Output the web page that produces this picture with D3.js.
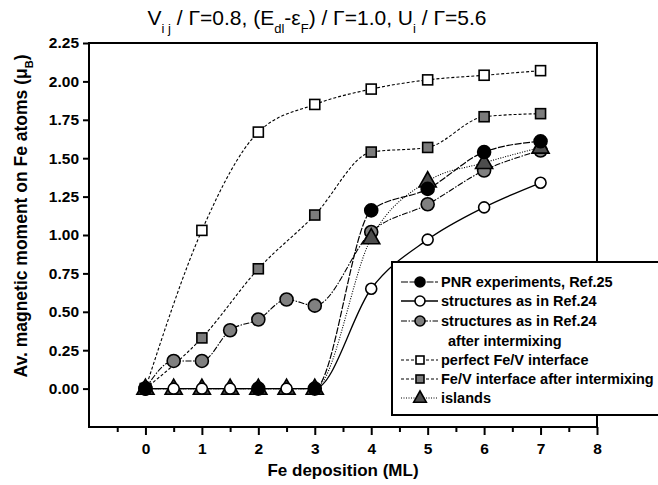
<!DOCTYPE html>
<html>
<head>
<meta charset="utf-8">
<script src="https://cdn.jsdelivr.net/npm/d3@7"></script>
<style>
  body { margin: 0; background: #fff; }
  svg { font-family: "Liberation Sans", Arial, sans-serif; }
</style>
</head>
<body>
<svg id="chart" width="658" height="485"></svg>
<script>
// Fe deposition (ML) and average moment (muB)
var pnrX        = [0, 2, 3, 4, 5, 6, 7];
var pnrY        = [0, 0, 0, 1.16, 1.30, 1.54, 1.61];
var ref24X      = [0, 0.5, 1, 1.5, 2, 2.5, 3, 4, 5, 6, 7];
var ref24Y      = [0, 0, 0, 0, 0, 0, 0, 0.65, 0.97, 1.18, 1.34];
var ref24MixX   = [0, 0.5, 1, 1.5, 2, 2.5, 3, 4, 5, 6, 7];
var ref24MixY   = [0, 0.18, 0.18, 0.38, 0.45, 0.58, 0.54, 1.02, 1.20, 1.42, 1.55];
var perfectX    = [0, 1, 2, 3, 4, 5, 6, 7];
var perfectY    = [0, 1.03, 1.67, 1.85, 1.95, 2.01, 2.04, 2.07];
var feVMixX     = [0, 1, 2, 3, 4, 5, 6, 7];
var feVMixY     = [0, 0.33, 0.78, 1.13, 1.54, 1.57, 1.77, 1.79];
var islandsX    = [0, 0.5, 1, 1.5, 2, 2.5, 3, 4, 5, 6, 7];
var islandsY    = [0, 0, 0, 0, 0, 0, 0, 0.98, 1.35, 1.47, 1.57];

var xTicks = [0, 1, 2, 3, 4, 5, 6, 7, 8];
var xMinorTicks = [-0.5, 0.5, 1.5, 2.5, 3.5, 4.5, 5.5, 6.5, 7.5];
var yTicks = [0, 0.25, 0.5, 0.75, 1.0, 1.25, 1.5, 1.75, 2.0, 2.25];

var svg = d3.select("#chart");

var x = d3.scaleLinear().domain([-1, 8]).range([89, 597]);
var y = d3.scaleLinear().domain([-0.25, 2.25]).range([427, 43]);

function zip(xs, ys) {
  return xs.map(function (v, i) { return [v, ys[i]]; });
}

var series = [
  { name: "perfect", data: zip(perfectX, perfectY), dash: "3,2", width: 1.1, shape: "square", fill: "#fff", size: 10 },
  { name: "fevmix", data: zip(feVMixX, feVMixY), dash: "3,2", width: 1.1, shape: "square", fill: "#7c7c7c", size: 10 },
  { name: "ref24mix", data: zip(ref24MixX, ref24MixY), dash: "6,1.5,1.5,1.5", width: 1.1, shape: "circle", fill: "#808080", size: 6.5 },
  { name: "islands", data: zip(islandsX, islandsY), dash: "1,1.5", width: 1.1, shape: "triangle", fill: "#4d4d4d", size: 9.5 },
  { name: "ref24", data: zip(ref24X, ref24Y), dash: null, width: 1.3, shape: "circle", fill: "#fff", size: 5.5 },
  { name: "pnr", data: zip(pnrX, pnrY), dash: "7,1.5", width: 1.2, shape: "circle", fill: "#000", size: 6.5 }
];

var line = d3.line()
  .x(function (d) { return x(d[0]); })
  .y(function (d) { return y(d[1]); })
  .curve(d3.curveMonotoneX);

// frame
svg.append("rect")
  .attr("x", x(-1)).attr("y", y(2.25))
  .attr("width", x(8) - x(-1)).attr("height", y(-0.25) - y(2.25))
  .attr("fill", "none").attr("stroke", "#000").attr("stroke-width", 2);

// axes
var xAxisG = svg.append("g").attr("transform", "translate(0," + y(-0.25) + ")");
xAxisG.call(d3.axisBottom(x).tickValues(xTicks).tickSize(8).tickFormat(d3.format("d")));
xAxisG.append("g").call(d3.axisBottom(x).tickValues(xMinorTicks).tickSize(5).tickFormat(""));

var yAxisG = svg.append("g").attr("transform", "translate(" + x(-1) + ",0)");
yAxisG.call(d3.axisLeft(y).tickValues(yTicks).tickSize(6).tickFormat(d3.format(".2f")));

svg.selectAll(".domain").remove();
svg.selectAll(".tick line").attr("stroke", "#000").attr("stroke-width", 2);
svg.selectAll(".tick text")
  .attr("fill", "#000")
  .style("font-size", "15.5px")
  .style("font-weight", "bold");
xAxisG.selectAll(".tick text").attr("dy", "1.05em");
yAxisG.selectAll(".tick text").attr("x", -10);

// lines
var plot = svg.append("g");
series.forEach(function (s) {
  plot.append("path")
    .datum(s.data)
    .attr("fill", "none")
    .attr("stroke", "#000")
    .attr("stroke-width", s.width)
    .attr("stroke-dasharray", s.dash)
    .attr("d", line);
});

function drawMarker(g, s, cx, cy) {
  var m;
  if (s.shape === "circle") {
    m = g.append("circle").attr("cx", cx).attr("cy", cy).attr("r", s.size);
  } else if (s.shape === "square") {
    m = g.append("rect")
      .attr("x", cx - s.size / 2).attr("y", cy - s.size / 2)
      .attr("width", s.size).attr("height", s.size);
  } else {
    var r = s.size;
    m = g.append("path")
      .attr("d", "M" + cx + "," + (cy - r) +
                 "L" + (cx + r * 0.9) + "," + (cy + r * 0.6) +
                 "L" + (cx - r * 0.9) + "," + (cy + r * 0.6) + "Z");
  }
  m.attr("fill", s.fill).attr("stroke", "#000").attr("stroke-width", 1.6);
}

series.forEach(function (s) {
  var g = plot.append("g");
  s.data.forEach(function (d) { drawMarker(g, s, x(d[0]), y(d[1])); });
});

// legend
var legend = svg.append("g");
legend.append("rect")
  .attr("x", 392).attr("y", 262).attr("width", 280).attr("height", 153)
  .attr("fill", "#fff").attr("stroke", "#000").attr("stroke-width", 2);

var legendRows = [
  { s: series[5], text: ["PNR experiments, Ref.25"], y: 282 },
  { s: series[4], text: ["structures as in Ref.24"], y: 301 },
  { s: series[2], text: ["structures as in Ref.24", "after intermixing"], y: 321 },
  { s: series[0], text: ["perfect Fe/V interface"], y: 360 },
  { s: series[1], text: ["Fe/V interface after intermixing"], y: 379 },
  { s: series[3], text: ["islands"], y: 398 }
];

legendRows.forEach(function (r) {
  legend.append("line")
    .attr("x1", 401).attr("x2", 438).attr("y1", r.y).attr("y2", r.y)
    .attr("stroke", "#000").attr("stroke-width", r.s.width)
    .attr("stroke-dasharray", r.s.dash);
  var small = Object.assign({}, r.s, { size: r.s.shape === "square" ? 8 : (r.s.shape === "triangle" ? 7 : 5) });
  drawMarker(legend, small, 420, r.y);
  r.text.forEach(function (t, i) {
    legend.append("text")
      .attr("x", i === 0 ? 441 : 448)
      .attr("y", r.y + 5 + i * 19.5)
      .style("font-size", "14.5px")
      .style("font-weight", "bold")
      .text(t);
  });
});

// axis titles
svg.append("text")
  .attr("x", 343).attr("y", 476)
  .attr("text-anchor", "middle")
  .style("font-size", "17px")
  .style("font-weight", "bold")
  .text("Fe deposition (ML)");

var yl = svg.append("text")
  .attr("transform", "translate(27,216) rotate(-90)")
  .attr("text-anchor", "middle")
  .style("font-size", "17.5px")
  .style("font-weight", "bold");
yl.append("tspan").text("Av. magnetic moment on Fe atoms (\u03bc");
yl.append("tspan").attr("baseline-shift", "sub").style("font-size", "11px").text("B");
yl.append("tspan").text(")");

// title
var title = svg.append("text")
  .attr("x", 317).attr("y", 25)
  .attr("text-anchor", "middle")
  .style("font-size", "21px");
function part(t, sub) {
  title.append("tspan")
    .attr("baseline-shift", sub ? "sub" : null)
    .style("font-size", sub ? "13px" : null)
    .text(t);
}
part("V"); part("i j", true); part(" / \u0393=0.8, (E"); part("dl", true);
part("-\u03b5"); part("F", true); part(") / \u0393=1.0, U"); part("i", true);
part(" / \u0393=5.6");
</script>
</body>
</html>
